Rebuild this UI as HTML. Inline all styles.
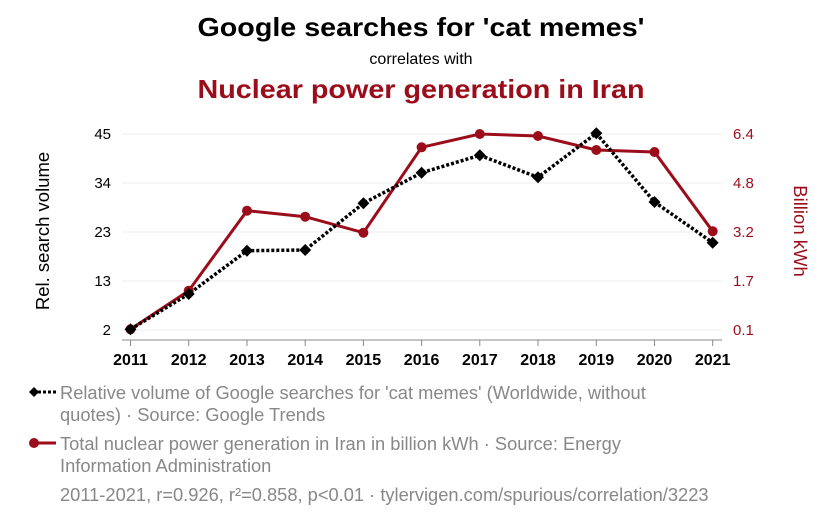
<!DOCTYPE html>
<html><head><meta charset="utf-8"><style>
html,body{margin:0;padding:0;background:#fff;}
svg{display:block;font-family:"Liberation Sans",Arial,sans-serif;}
</style></head><body>
<svg width="825" height="517" viewBox="0 0 825 517" xmlns="http://www.w3.org/2000/svg">
<text x="421" y="36" text-anchor="middle" font-size="26" font-weight="bold" fill="#000" textLength="447" lengthAdjust="spacingAndGlyphs">Google searches for 'cat memes'</text>
<text x="421" y="64" text-anchor="middle" font-size="16" fill="#000">correlates with</text>
<text x="421" y="98" text-anchor="middle" font-size="26" font-weight="bold" fill="#9b0d1a" textLength="447" lengthAdjust="spacingAndGlyphs">Nuclear power generation in Iran</text>
<g stroke="#eeeeee" stroke-width="1">
<line x1="122" y1="134" x2="722" y2="134"/><line x1="122" y1="183" x2="722" y2="183"/><line x1="122" y1="232" x2="722" y2="232"/><line x1="122" y1="281" x2="722" y2="281"/><line x1="122" y1="330" x2="722" y2="330"/>
</g>
<line x1="122" y1="340" x2="722" y2="340" stroke="#888" stroke-width="1"/>
<g stroke="#888"><line x1="130.5" y1="340" x2="130.5" y2="346"/><line x1="188.7" y1="340" x2="188.7" y2="346"/><line x1="247" y1="340" x2="247" y2="346"/><line x1="305.2" y1="340" x2="305.2" y2="346"/><line x1="363.4" y1="340" x2="363.4" y2="346"/><line x1="421.6" y1="340" x2="421.6" y2="346"/><line x1="479.8" y1="340" x2="479.8" y2="346"/><line x1="538" y1="340" x2="538" y2="346"/><line x1="596.3" y1="340" x2="596.3" y2="346"/><line x1="654.5" y1="340" x2="654.5" y2="346"/><line x1="712.7" y1="340" x2="712.7" y2="346"/></g>
<g font-size="16" font-weight="bold" text-anchor="middle" fill="#000">
<text x="130.5" y="365">2011</text><text x="188.7" y="365">2012</text><text x="247" y="365">2013</text><text x="305.2" y="365">2014</text><text x="363.4" y="365">2015</text><text x="421.6" y="365">2016</text><text x="479.8" y="365">2017</text><text x="538" y="365">2018</text><text x="596.3" y="365">2019</text><text x="654.5" y="365">2020</text><text x="712.7" y="365">2021</text>
</g>
<g font-size="15" text-anchor="end" fill="#000">
<text x="111" y="139">45</text><text x="111" y="188">34</text><text x="111" y="237">23</text><text x="111" y="286">13</text><text x="111" y="335">2</text>
</g>
<g font-size="15" text-anchor="start" fill="#9b0d1a">
<text x="733" y="139">6.4</text><text x="733" y="188">4.8</text><text x="733" y="237">3.2</text><text x="733" y="286">1.7</text><text x="733" y="335">0.1</text>
</g>
<text transform="translate(49,231) rotate(-90)" text-anchor="middle" font-size="18.5" fill="#000">Rel. search volume</text>
<text transform="translate(794,231) rotate(90)" text-anchor="middle" font-size="18.5" fill="#9b0d1a">Billion kWh</text>
<polyline fill="none" stroke="#9b0d1a" stroke-width="3" points="130.5,329.3 188.7,290.7 247,210.7 305.2,216.7 363.4,232.7 421.6,147.3 479.8,134 538,136 596.3,150 654.5,152 712.7,231.3"/>
<g fill="#9b0d1a"><circle cx="188.7" cy="290.7" r="5"/><circle cx="247" cy="210.7" r="5"/><circle cx="305.2" cy="216.7" r="5"/><circle cx="363.4" cy="232.7" r="5"/><circle cx="421.6" cy="147.3" r="5"/><circle cx="479.8" cy="134" r="5"/><circle cx="538" cy="136" r="5"/><circle cx="596.3" cy="150" r="5"/><circle cx="654.5" cy="152" r="5"/><circle cx="712.7" cy="231.3" r="5"/><circle cx="130.5" cy="329.3" r="5"/></g>
<polyline fill="none" stroke="#000" stroke-width="3.5" stroke-dasharray="3,2" points="130.5,329.3 188.7,294 247,250.7 305.2,250 363.4,203.3 421.6,172.7 479.8,155.3 538,177.3 596.3,133.3 654.5,202 712.7,242.7"/>
<g fill="#000">
<path d="M130.5 323.3l6 6-6 6-6-6z"/><path d="M188.7 288l6 6-6 6-6-6z"/><path d="M247 244.7l6 6-6 6-6-6z"/><path d="M305.2 244l6 6-6 6-6-6z"/><path d="M363.4 197.3l6 6-6 6-6-6z"/><path d="M421.6 166.7l6 6-6 6-6-6z"/><path d="M479.8 149.3l6 6-6 6-6-6z"/><path d="M538 171.3l6 6-6 6-6-6z"/><path d="M596.3 127.3l6 6-6 6-6-6z"/><path d="M654.5 196l6 6-6 6-6-6z"/><path d="M712.7 236.7l6 6-6 6-6-6z"/>
</g>
<path d="M34 387l5 5-5 5-5-5z" fill="#000"/>
<line x1="38" y1="392" x2="56" y2="392" stroke="#000" stroke-width="3" stroke-dasharray="3,2"/>
<circle cx="34" cy="443" r="5" fill="#9b0d1a"/>
<line x1="34" y1="443" x2="56" y2="443" stroke="#9b0d1a" stroke-width="3"/>
<g font-size="18.3" fill="#888">
<text x="60" y="399">Relative volume of Google searches for 'cat memes' (Worldwide, without</text>
<text x="60" y="421">quotes) · Source: Google Trends</text>
<text x="60" y="450">Total nuclear power generation in Iran in billion kWh · Source: Energy</text>
<text x="60" y="472">Information Administration</text>
<text x="60" y="501">2011-2021, r=0.926, r²=0.858, p&lt;0.01 · tylervigen.com/spurious/correlation/3223</text>
</g>
</svg>
</body></html>
